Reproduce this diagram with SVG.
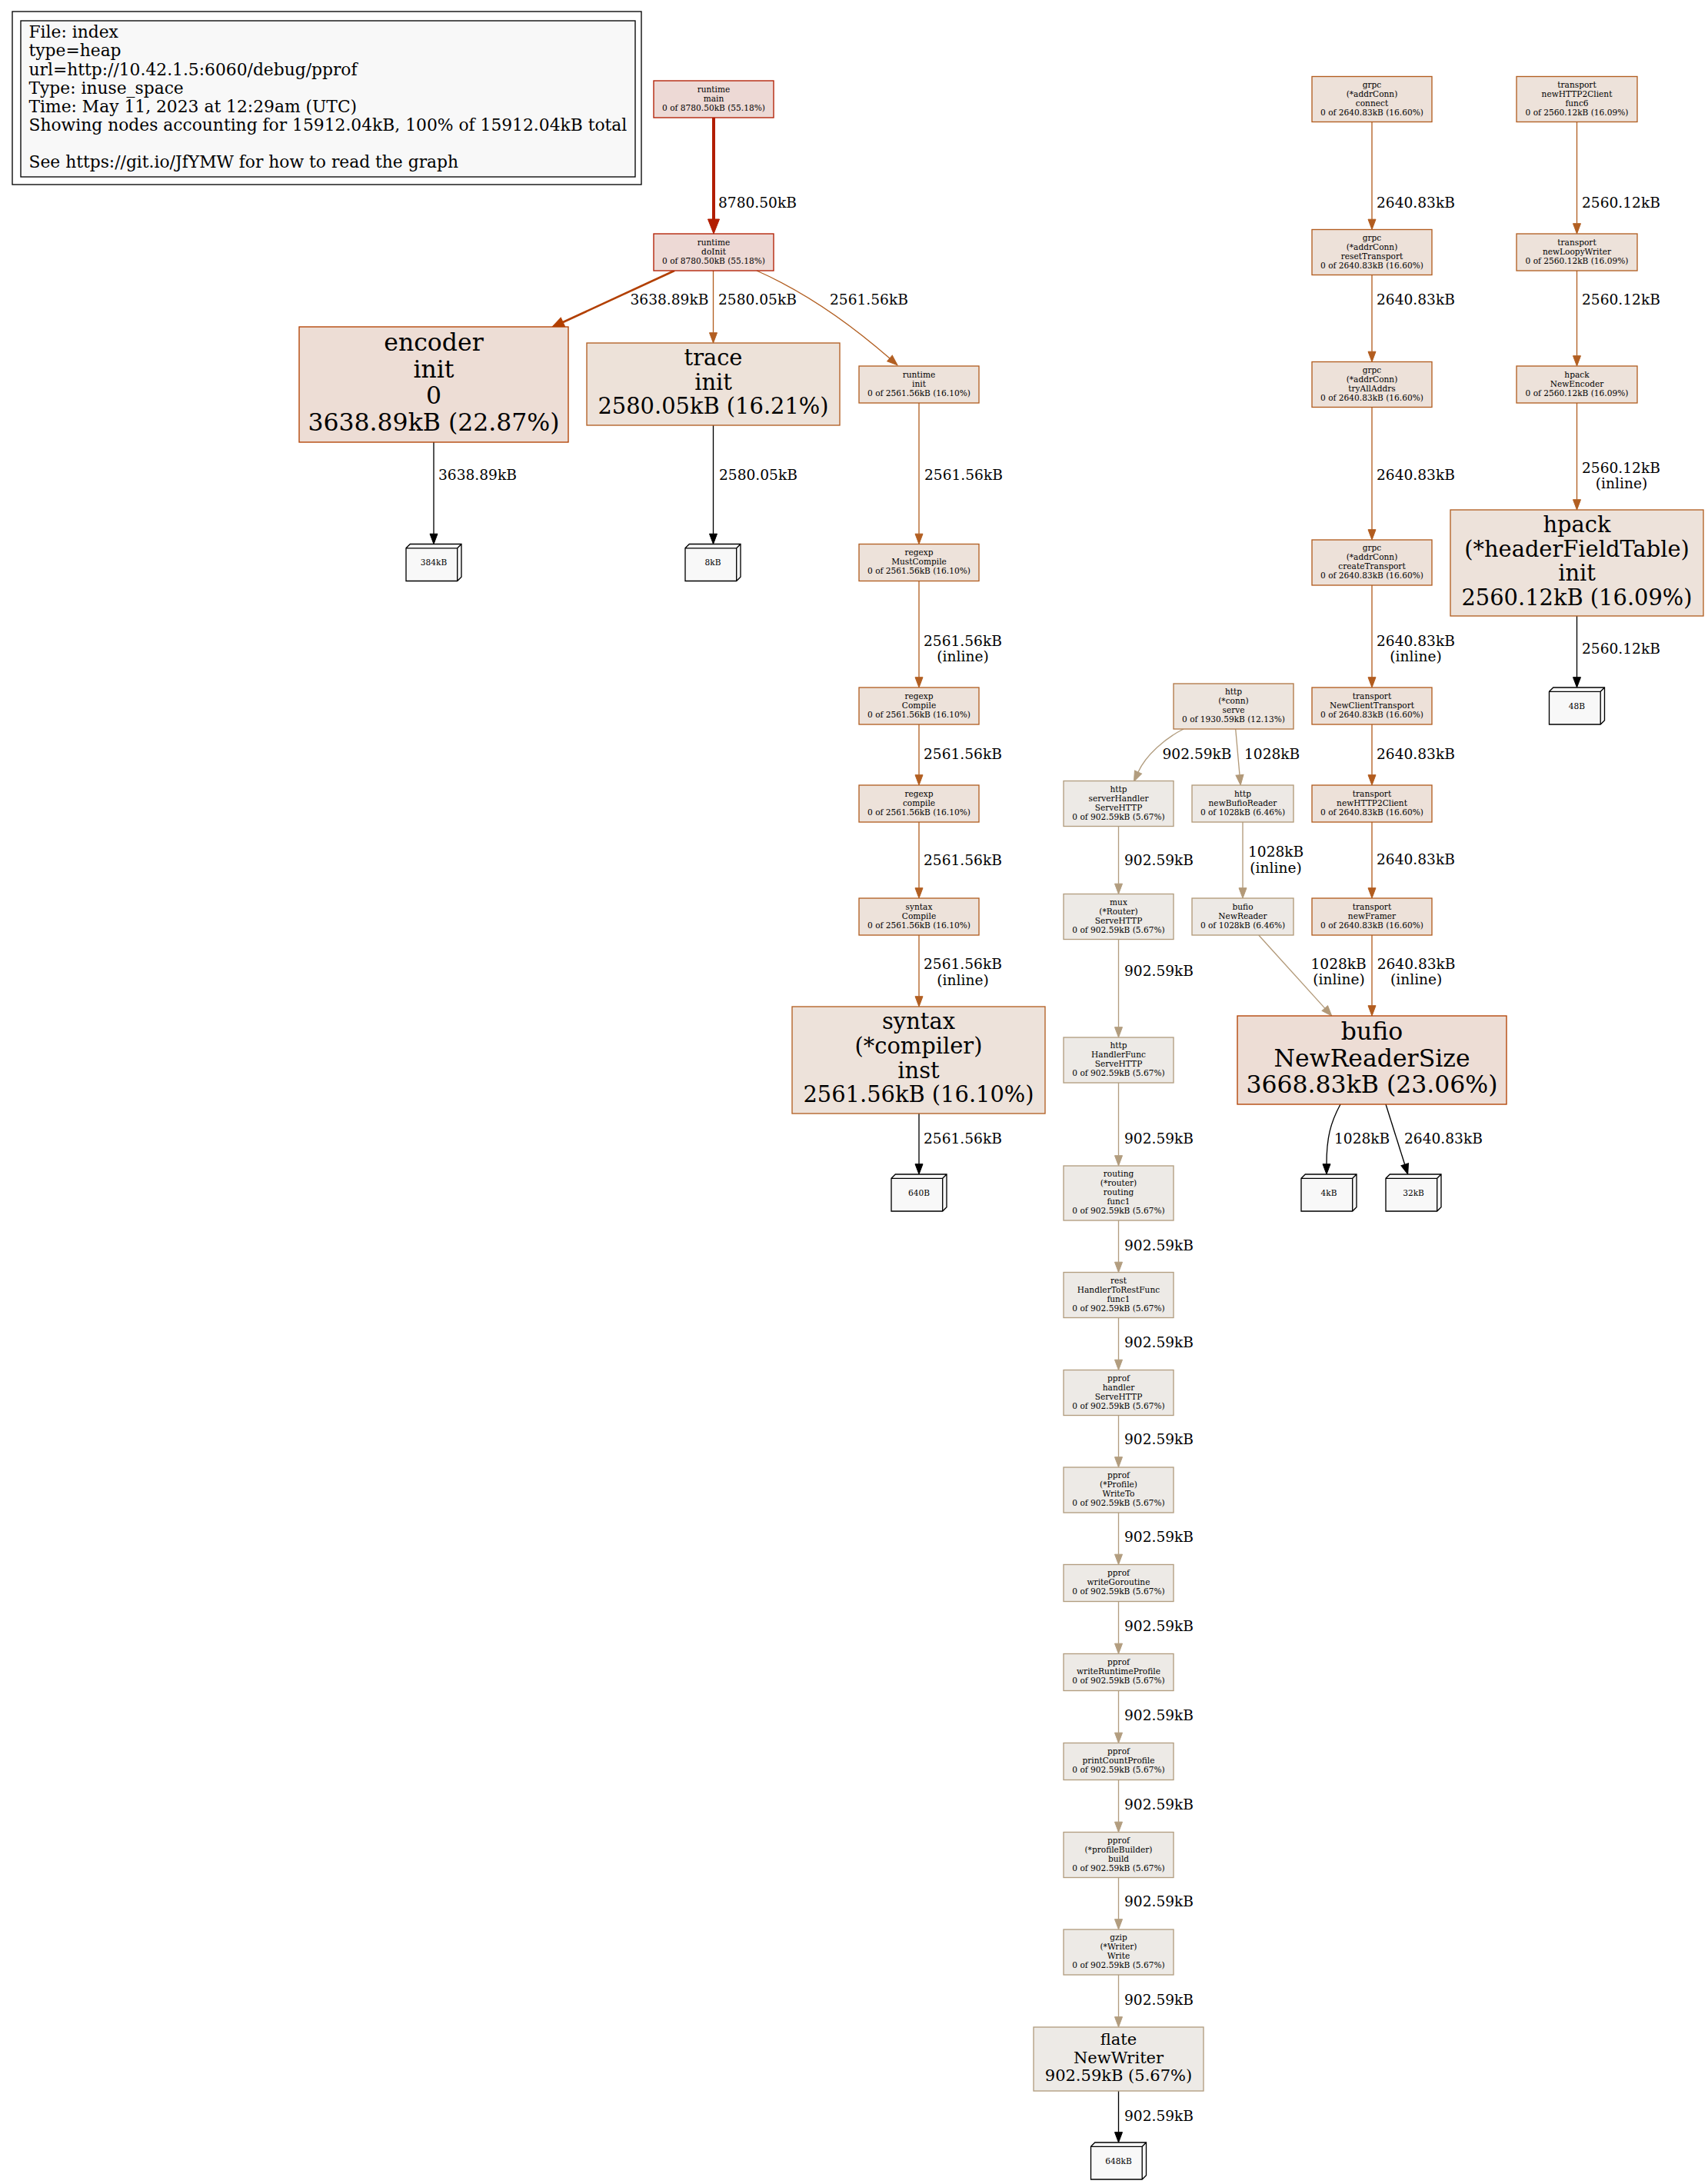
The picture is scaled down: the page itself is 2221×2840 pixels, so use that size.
<svg xmlns="http://www.w3.org/2000/svg" width="2221" height="2840" viewBox="0 0 2221 2840">
<style>
text{font-family:"DejaVu Serif","Liberation Serif",serif;fill:#000}
.s{font-size:10.6px;text-anchor:middle}
.lf{font-size:10.6px;text-anchor:middle}
.el{font-size:18.6px}
.elm{font-size:18.6px;text-anchor:middle}
.lg{font-size:21.8px}
.b32{font-size:31.5px;text-anchor:middle}
.b29{font-size:28.9px;text-anchor:middle}
.b21{font-size:21px;text-anchor:middle}
.nb{stroke-width:1.33}
.c55{fill:#edd9d5;stroke:#b21d00}
.c23{fill:#edddd5;stroke:#b23f00}
.c166{fill:#ede1d9;stroke:#b25c1e}
.c162{fill:#ede2d9;stroke:#b25e21}
.c161{fill:#ede2da;stroke:#b25f22}
.c121{fill:#ede5de;stroke:#b27846}
.c646{fill:#ede9e5;stroke:#b29978}
.c567{fill:#edeae6;stroke:#b29d7f}
.leaf{fill:#f8f8f8;stroke:#000;stroke-width:1.33}
.ed{fill:none}
.k55{stroke:#b21d00;stroke-width:4}
.k23{stroke:#b23f00;stroke-width:2.67}
.k166{stroke:#b25c1e;stroke-width:1.33}
.k162{stroke:#b25e21;stroke-width:1.33}
.k161{stroke:#b25f22;stroke-width:1.33}
.k646{stroke:#b29978;stroke-width:1.33}
.k567{stroke:#b29d7f;stroke-width:1.33}
.kb{stroke:#000;stroke-width:1.33}
</style>
<defs>
<marker id="m55" markerUnits="userSpaceOnUse" orient="auto" markerWidth="20" markerHeight="16" refX="0" refY="0" overflow="visible"><path d="M0,-7.5L19,0L0,7.5z" fill="#b21d00" stroke="#b21d00"/></marker>
<marker id="m23" markerUnits="userSpaceOnUse" orient="auto" markerWidth="20" markerHeight="16" refX="0" refY="0" overflow="visible"><path d="M0,-6.5L16,0L0,6.5z" fill="#b23f00" stroke="#b23f00"/></marker>
<marker id="m166" markerUnits="userSpaceOnUse" orient="auto" markerWidth="14" markerHeight="12" refX="0" refY="0" overflow="visible"><path d="M0,-5L13.3,0L0,5z" fill="#b25c1e" stroke="#b25c1e"/></marker>
<marker id="m162" markerUnits="userSpaceOnUse" orient="auto" markerWidth="14" markerHeight="12" refX="0" refY="0" overflow="visible"><path d="M0,-5L13.3,0L0,5z" fill="#b25e21" stroke="#b25e21"/></marker>
<marker id="m161" markerUnits="userSpaceOnUse" orient="auto" markerWidth="14" markerHeight="12" refX="0" refY="0" overflow="visible"><path d="M0,-5L13.3,0L0,5z" fill="#b25f22" stroke="#b25f22"/></marker>
<marker id="m646" markerUnits="userSpaceOnUse" orient="auto" markerWidth="14" markerHeight="12" refX="0" refY="0" overflow="visible"><path d="M0,-5L13.3,0L0,5z" fill="#b29978" stroke="#b29978"/></marker>
<marker id="m567" markerUnits="userSpaceOnUse" orient="auto" markerWidth="14" markerHeight="12" refX="0" refY="0" overflow="visible"><path d="M0,-5L13.3,0L0,5z" fill="#b29d7f" stroke="#b29d7f"/></marker>
<marker id="mb" markerUnits="userSpaceOnUse" orient="auto" markerWidth="14" markerHeight="12" refX="0" refY="0" overflow="visible"><path d="M0,-5L13.3,0L0,5z" fill="#000" stroke="#000"/></marker>
</defs>
<rect width="2221" height="2840" fill="#fff"/>

<g id="legend">
<rect x="16" y="15" width="818" height="225" fill="none" stroke="#000" stroke-width="1.33"/>
<rect x="27" y="27" width="799" height="203" fill="#f8f8f8" stroke="#000" stroke-width="1.33"/>
<text class="lg" x="37.5" y="49.3">File: index</text>
<text class="lg" x="37.5" y="73.4">type=heap</text>
<text class="lg" x="37.5" y="97.5">url=http://10.42.1.5:6060/debug/pprof</text>
<text class="lg" x="37.5" y="121.6">Type: inuse_space</text>
<text class="lg" x="37.5" y="145.7">Time: May 11, 2023 at 12:29am (UTC)</text>
<text class="lg" x="37.5" y="169.8">Showing nodes accounting for 15912.04kB, 100% of 15912.04kB total</text>
<text class="lg" x="37.5" y="218">See https://git.io/JfYMW for how to read the graph</text>
</g>

<g id="edges" class="ed">
<path class="ed k55" d="M928,153L928,285" marker-end="url(#m55)"/>
<path class="ed k23" d="M877,352L732,419" marker-end="url(#m23)"/>
<path class="ed k162" d="M927.5,352L927.5,432.7" marker-end="url(#m162)"/>
<path class="ed k161" d="M984,352C1050,381 1110,425 1157,466" marker-end="url(#m161)"/>
<path class="ed kb" d="M564,575L564,694.2" marker-end="url(#mb)"/>
<path class="ed kb" d="M927.5,553L927.5,694.2" marker-end="url(#mb)"/>
<path class="ed k161" d="M1195,524L1195,694.2" marker-end="url(#m161)"/>
<path class="ed k161" d="M1195,755.5L1195,880.7" marker-end="url(#m161)"/>
<path class="ed k161" d="M1195,942L1195,1007.7" marker-end="url(#m161)"/>
<path class="ed k161" d="M1195,1069L1195,1154.7" marker-end="url(#m161)"/>
<path class="ed k161" d="M1195,1216L1195,1295.7" marker-end="url(#m161)"/>
<path class="ed kb" d="M1195,1448L1195,1513.7" marker-end="url(#mb)"/>
<path class="ed k166" d="M1784,158.5L1784,285.2" marker-end="url(#m166)"/>
<path class="ed k166" d="M1784,357.5L1784,457.2" marker-end="url(#m166)"/>
<path class="ed k166" d="M1784,529.5L1784,688.7" marker-end="url(#m166)"/>
<path class="ed k166" d="M1784,761L1784,880.7" marker-end="url(#m166)"/>
<path class="ed k166" d="M1784,942L1784,1007.7" marker-end="url(#m166)"/>
<path class="ed k166" d="M1784,1069L1784,1154.7" marker-end="url(#m166)"/>
<path class="ed k166" d="M1784,1216L1784,1307.7" marker-end="url(#m166)"/>
<path class="ed k161" d="M2050.5,158.5L2050.5,290.7" marker-end="url(#m161)"/>
<path class="ed k161" d="M2050.5,352L2050.5,462.7" marker-end="url(#m161)"/>
<path class="ed k161" d="M2050.5,524L2050.5,649.7" marker-end="url(#m161)"/>
<path class="ed kb" d="M2050.5,801L2050.5,880.7" marker-end="url(#mb)"/>
<path class="ed k567" d="M1539,948C1515,960 1490,982 1480,1004" marker-end="url(#m567)"/>
<path class="ed k646" d="M1606.7,948L1612,1007.7" marker-end="url(#m646)"/>
<path class="ed k646" d="M1616,1069L1616,1154.7" marker-end="url(#m646)"/>
<path class="ed k646" d="M1636.7,1216L1722.8,1311.1" marker-end="url(#m646)"/>
<path class="ed kb" d="M1743,1436C1730,1460 1725,1480 1725,1513.7" marker-end="url(#mb)"/>
<path class="ed kb" d="M1802,1436L1826.7,1514.3" marker-end="url(#mb)"/>
<path class="ed k567" d="M1454.5,1074.5L1454.5,1149.2" marker-end="url(#m567)"/>
<path class="ed k567" d="M1454.5,1221.5L1454.5,1335.7" marker-end="url(#m567)"/>
<path class="ed k567" d="M1454.5,1408L1454.5,1502.7" marker-end="url(#m567)"/>
<path class="ed k567" d="M1454.5,1587L1454.5,1641.2" marker-end="url(#m567)"/>
<path class="ed k567" d="M1454.5,1713.5L1454.5,1768.2" marker-end="url(#m567)"/>
<path class="ed k567" d="M1454.5,1840.5L1454.5,1894.7" marker-end="url(#m567)"/>
<path class="ed k567" d="M1454.5,1967L1454.5,2021.2" marker-end="url(#m567)"/>
<path class="ed k567" d="M1454.5,2082.5L1454.5,2137.2" marker-end="url(#m567)"/>
<path class="ed k567" d="M1454.5,2198.5L1454.5,2253.2" marker-end="url(#m567)"/>
<path class="ed k567" d="M1454.5,2314.5L1454.5,2369.2" marker-end="url(#m567)"/>
<path class="ed k567" d="M1454.5,2441.5L1454.5,2495.7" marker-end="url(#m567)"/>
<path class="ed k567" d="M1454.5,2568L1454.5,2622.7" marker-end="url(#m567)"/>
<path class="ed kb" d="M1454.5,2719L1454.5,2772.7" marker-end="url(#mb)"/>
<text class="el" x="934" y="270">8780.50kB</text>
<text class="el" x="819.5" y="395.5">3638.89kB</text>
<text class="el" x="934" y="395.5">2580.05kB</text>
<text class="el" x="1079" y="395.5">2561.56kB</text>
<text class="el" x="570" y="624">3638.89kB</text>
<text class="el" x="935" y="624">2580.05kB</text>
<text class="el" x="1202" y="624">2561.56kB</text>
<text class="el" x="1201" y="839.5">2561.56kB</text>
<text class="elm" x="1252" y="860">(inline)</text>
<text class="el" x="1201" y="986.5">2561.56kB</text>
<text class="el" x="1201" y="1124.5">2561.56kB</text>
<text class="el" x="1201" y="1259.8">2561.56kB</text>
<text class="elm" x="1252" y="1280.5">(inline)</text>
<text class="el" x="1201" y="1486.5">2561.56kB</text>
<text class="el" x="1790" y="269.5">2640.83kB</text>
<text class="el" x="1790" y="395.5">2640.83kB</text>
<text class="el" x="1790" y="623.5">2640.83kB</text>
<text class="el" x="1790" y="839.5">2640.83kB</text>
<text class="elm" x="1841" y="860">(inline)</text>
<text class="el" x="1790" y="986.5">2640.83kB</text>
<text class="el" x="1790" y="1123.5">2640.83kB</text>
<text class="el" x="1790.7" y="1259.5">2640.83kB</text>
<text class="elm" x="1841.7" y="1280">(inline)</text>
<text class="el" x="2057" y="269.5">2560.12kB</text>
<text class="el" x="2057" y="395.5">2560.12kB</text>
<text class="el" x="2057" y="614.5">2560.12kB</text>
<text class="elm" x="2108.5" y="635">(inline)</text>
<text class="el" x="2057" y="849.5">2560.12kB</text>
<text class="el" x="1511.5" y="986.5">902.59kB</text>
<text class="el" x="1618" y="986.5">1028kB</text>
<text class="el" x="1623" y="1113.5">1028kB</text>
<text class="elm" x="1659" y="1134.5">(inline)</text>
<text class="el" x="1704.5" y="1259.5">1028kB</text>
<text class="elm" x="1741" y="1280">(inline)</text>
<text class="el" x="1735" y="1486.5">1028kB</text>
<text class="el" x="1826" y="1486.5">2640.83kB</text>
<text class="el" x="1462" y="1124.5">902.59kB</text>
<text class="el" x="1462" y="1269">902.59kB</text>
<text class="el" x="1462" y="1486.5">902.59kB</text>
<text class="el" x="1462" y="1625.5">902.59kB</text>
<text class="el" x="1462" y="1751.5">902.59kB</text>
<text class="el" x="1462" y="1878">902.59kB</text>
<text class="el" x="1462" y="2004.5">902.59kB</text>
<text class="el" x="1462" y="2120.5">902.59kB</text>
<text class="el" x="1462" y="2236.5">902.59kB</text>
<text class="el" x="1462" y="2352.5">902.59kB</text>
<text class="el" x="1462" y="2479">902.59kB</text>
<text class="el" x="1462" y="2606.5">902.59kB</text>
<text class="el" x="1462" y="2757.5">902.59kB</text>
</g>

<g id="runtime_main"><rect class="c55 nb" x="850" y="105" width="156" height="48"/><text class="s" x="928" y="119.5">runtime</text><text class="s" x="928" y="131.5">main</text><text class="s" x="928" y="143.5">0 of 8780.50kB (55.18%)</text></g>
<g id="runtime_doInit"><rect class="c55 nb" x="850" y="304" width="156" height="48"/><text class="s" x="928" y="318.5">runtime</text><text class="s" x="928" y="330.5">doInit</text><text class="s" x="928" y="342.5">0 of 8780.50kB (55.18%)</text></g>
<g id="encoder_init"><rect class="c23 nb" x="389" y="425" width="350" height="150"/><text class="b32" x="564" y="456.3">encoder</text><text class="b32" x="564" y="490.8">init</text><text class="b32" x="564" y="525.3">0</text><text class="b32" x="564" y="559.8">3638.89kB (22.87%)</text></g>
<g id="trace_init"><rect class="c162 nb" x="763" y="446" width="329" height="107"/><text class="b29" x="927.5" y="475.2">trace</text><text class="b29" x="927.5" y="506.8">init</text><text class="b29" x="927.5" y="538.4">2580.05kB (16.21%)</text></g>
<g id="runtime_init"><rect class="c161 nb" x="1117" y="476" width="156" height="48"/><text class="s" x="1195" y="490.5">runtime</text><text class="s" x="1195" y="502.5">init</text><text class="s" x="1195" y="514.5">0 of 2561.56kB (16.10%)</text></g>
<g id="regexp_MustCompile"><rect class="c161 nb" x="1117" y="707.5" width="156" height="48"/><text class="s" x="1195" y="722">regexp</text><text class="s" x="1195" y="734">MustCompile</text><text class="s" x="1195" y="746">0 of 2561.56kB (16.10%)</text></g>
<g id="regexp_Compile"><rect class="c161 nb" x="1117" y="894" width="156" height="48"/><text class="s" x="1195" y="908.5">regexp</text><text class="s" x="1195" y="920.5">Compile</text><text class="s" x="1195" y="932.5">0 of 2561.56kB (16.10%)</text></g>
<g id="regexp_compile"><rect class="c161 nb" x="1117" y="1021" width="156" height="48"/><text class="s" x="1195" y="1035.5">regexp</text><text class="s" x="1195" y="1047.5">compile</text><text class="s" x="1195" y="1059.5">0 of 2561.56kB (16.10%)</text></g>
<g id="syntax_Compile"><rect class="c161 nb" x="1117" y="1168" width="156" height="48"/><text class="s" x="1195" y="1182.5">syntax</text><text class="s" x="1195" y="1194.5">Compile</text><text class="s" x="1195" y="1206.5">0 of 2561.56kB (16.10%)</text></g>
<g id="syntax_inst"><rect class="c161 nb" x="1030" y="1309" width="329" height="139"/><text class="b29" x="1194.5" y="1338.4">syntax</text><text class="b29" x="1194.5" y="1370">(*compiler)</text><text class="b29" x="1194.5" y="1401.6">inst</text><text class="b29" x="1194.5" y="1433.2">2561.56kB (16.10%)</text></g>

<g id="grpc_connect"><rect class="c166 nb" x="1706" y="99.5" width="156" height="59"/><text class="s" x="1784" y="113.5">grpc</text><text class="s" x="1784" y="125.5">(*addrConn)</text><text class="s" x="1784" y="137.5">connect</text><text class="s" x="1784" y="149.5">0 of 2640.83kB (16.60%)</text></g>
<g id="grpc_resetTransport"><rect class="c166 nb" x="1706" y="298.5" width="156" height="59"/><text class="s" x="1784" y="312.5">grpc</text><text class="s" x="1784" y="324.5">(*addrConn)</text><text class="s" x="1784" y="336.5">resetTransport</text><text class="s" x="1784" y="348.5">0 of 2640.83kB (16.60%)</text></g>
<g id="grpc_tryAllAddrs"><rect class="c166 nb" x="1706" y="470.5" width="156" height="59"/><text class="s" x="1784" y="484.5">grpc</text><text class="s" x="1784" y="496.5">(*addrConn)</text><text class="s" x="1784" y="508.5">tryAllAddrs</text><text class="s" x="1784" y="520.5">0 of 2640.83kB (16.60%)</text></g>
<g id="grpc_createTransport"><rect class="c166 nb" x="1706" y="702" width="156" height="59"/><text class="s" x="1784" y="716">grpc</text><text class="s" x="1784" y="728">(*addrConn)</text><text class="s" x="1784" y="740">createTransport</text><text class="s" x="1784" y="752">0 of 2640.83kB (16.60%)</text></g>
<g id="transport_NewClientTransport"><rect class="c166 nb" x="1706" y="894" width="156" height="48"/><text class="s" x="1784" y="908.5">transport</text><text class="s" x="1784" y="920.5">NewClientTransport</text><text class="s" x="1784" y="932.5">0 of 2640.83kB (16.60%)</text></g>
<g id="transport_newHTTP2Client"><rect class="c166 nb" x="1706" y="1021" width="156" height="48"/><text class="s" x="1784" y="1035.5">transport</text><text class="s" x="1784" y="1047.5">newHTTP2Client</text><text class="s" x="1784" y="1059.5">0 of 2640.83kB (16.60%)</text></g>
<g id="transport_newFramer"><rect class="c166 nb" x="1706" y="1168" width="156" height="48"/><text class="s" x="1784" y="1182.5">transport</text><text class="s" x="1784" y="1194.5">newFramer</text><text class="s" x="1784" y="1206.5">0 of 2640.83kB (16.60%)</text></g>
<g id="bufio_NewReaderSize"><rect class="c23 nb" x="1609" y="1321" width="350" height="115"/><text class="b32" x="1784" y="1352">bufio</text><text class="b32" x="1784" y="1386.5">NewReaderSize</text><text class="b32" x="1784" y="1421">3668.83kB (23.06%)</text></g>

<g id="transport_func6"><rect class="c161 nb" x="1972" y="99.5" width="157" height="59"/><text class="s" x="2050.5" y="113.5">transport</text><text class="s" x="2050.5" y="125.5">newHTTP2Client</text><text class="s" x="2050.5" y="137.5">func6</text><text class="s" x="2050.5" y="149.5">0 of 2560.12kB (16.09%)</text></g>
<g id="transport_newLoopyWriter"><rect class="c161 nb" x="1972" y="304" width="157" height="48"/><text class="s" x="2050.5" y="318.5">transport</text><text class="s" x="2050.5" y="330.5">newLoopyWriter</text><text class="s" x="2050.5" y="342.5">0 of 2560.12kB (16.09%)</text></g>
<g id="hpack_NewEncoder"><rect class="c161 nb" x="1972" y="476" width="157" height="48"/><text class="s" x="2050.5" y="490.5">hpack</text><text class="s" x="2050.5" y="502.5">NewEncoder</text><text class="s" x="2050.5" y="514.5">0 of 2560.12kB (16.09%)</text></g>
<g id="hpack_init"><rect class="c161 nb" x="1886" y="663" width="329" height="138"/><text class="b29" x="2050.5" y="692">hpack</text><text class="b29" x="2050.5" y="723.6">(*headerFieldTable)</text><text class="b29" x="2050.5" y="755.2">init</text><text class="b29" x="2050.5" y="786.8">2560.12kB (16.09%)</text></g>

<g id="http_conn_serve"><rect class="c121 nb" x="1526" y="889" width="156" height="59"/><text class="s" x="1604" y="903">http</text><text class="s" x="1604" y="915">(*conn)</text><text class="s" x="1604" y="927">serve</text><text class="s" x="1604" y="939">0 of 1930.59kB (12.13%)</text></g>
<g id="http_newBufioReader"><rect class="c646 nb" x="1550" y="1021" width="132" height="48"/><text class="s" x="1616" y="1035.5">http</text><text class="s" x="1616" y="1047.5">newBufioReader</text><text class="s" x="1616" y="1059.5">0 of 1028kB (6.46%)</text></g>
<g id="bufio_NewReader"><rect class="c646 nb" x="1550" y="1168" width="132" height="48"/><text class="s" x="1616" y="1182.5">bufio</text><text class="s" x="1616" y="1194.5">NewReader</text><text class="s" x="1616" y="1206.5">0 of 1028kB (6.46%)</text></g>

<g id="http_serverHandler"><rect class="c567 nb" x="1383" y="1015.5" width="143" height="59"/><text class="s" x="1454.5" y="1029.5">http</text><text class="s" x="1454.5" y="1041.5">serverHandler</text><text class="s" x="1454.5" y="1053.5">ServeHTTP</text><text class="s" x="1454.5" y="1065.5">0 of 902.59kB (5.67%)</text></g>
<g id="mux_Router"><rect class="c567 nb" x="1383" y="1162.5" width="143" height="59"/><text class="s" x="1454.5" y="1176.5">mux</text><text class="s" x="1454.5" y="1188.5">(*Router)</text><text class="s" x="1454.5" y="1200.5">ServeHTTP</text><text class="s" x="1454.5" y="1212.5">0 of 902.59kB (5.67%)</text></g>
<g id="http_HandlerFunc"><rect class="c567 nb" x="1383" y="1349" width="143" height="59"/><text class="s" x="1454.5" y="1363">http</text><text class="s" x="1454.5" y="1375">HandlerFunc</text><text class="s" x="1454.5" y="1387">ServeHTTP</text><text class="s" x="1454.5" y="1399">0 of 902.59kB (5.67%)</text></g>
<g id="routing_func1"><rect class="c567 nb" x="1383" y="1516" width="143" height="71"/><text class="s" x="1454.5" y="1530">routing</text><text class="s" x="1454.5" y="1542">(*router)</text><text class="s" x="1454.5" y="1554">routing</text><text class="s" x="1454.5" y="1566">func1</text><text class="s" x="1454.5" y="1578">0 of 902.59kB (5.67%)</text></g>
<g id="rest_func1"><rect class="c567 nb" x="1383" y="1654.5" width="143" height="59"/><text class="s" x="1454.5" y="1668.5">rest</text><text class="s" x="1454.5" y="1680.5">HandlerToRestFunc</text><text class="s" x="1454.5" y="1692.5">func1</text><text class="s" x="1454.5" y="1704.5">0 of 902.59kB (5.67%)</text></g>
<g id="pprof_handler"><rect class="c567 nb" x="1383" y="1781.5" width="143" height="59"/><text class="s" x="1454.5" y="1795.5">pprof</text><text class="s" x="1454.5" y="1807.5">handler</text><text class="s" x="1454.5" y="1819.5">ServeHTTP</text><text class="s" x="1454.5" y="1831.5">0 of 902.59kB (5.67%)</text></g>
<g id="pprof_WriteTo"><rect class="c567 nb" x="1383" y="1908" width="143" height="59"/><text class="s" x="1454.5" y="1922">pprof</text><text class="s" x="1454.5" y="1934">(*Profile)</text><text class="s" x="1454.5" y="1946">WriteTo</text><text class="s" x="1454.5" y="1958">0 of 902.59kB (5.67%)</text></g>
<g id="pprof_writeGoroutine"><rect class="c567 nb" x="1383" y="2034.5" width="143" height="48"/><text class="s" x="1454.5" y="2049">pprof</text><text class="s" x="1454.5" y="2061">writeGoroutine</text><text class="s" x="1454.5" y="2073">0 of 902.59kB (5.67%)</text></g>
<g id="pprof_writeRuntimeProfile"><rect class="c567 nb" x="1383" y="2150.5" width="143" height="48"/><text class="s" x="1454.5" y="2165">pprof</text><text class="s" x="1454.5" y="2177">writeRuntimeProfile</text><text class="s" x="1454.5" y="2189">0 of 902.59kB (5.67%)</text></g>
<g id="pprof_printCountProfile"><rect class="c567 nb" x="1383" y="2266.5" width="143" height="48"/><text class="s" x="1454.5" y="2281">pprof</text><text class="s" x="1454.5" y="2293">printCountProfile</text><text class="s" x="1454.5" y="2305">0 of 902.59kB (5.67%)</text></g>
<g id="pprof_build"><rect class="c567 nb" x="1383" y="2382.5" width="143" height="59"/><text class="s" x="1454.5" y="2396.5">pprof</text><text class="s" x="1454.5" y="2408.5">(*profileBuilder)</text><text class="s" x="1454.5" y="2420.5">build</text><text class="s" x="1454.5" y="2432.5">0 of 902.59kB (5.67%)</text></g>
<g id="gzip_Write"><rect class="c567 nb" x="1383" y="2509" width="143" height="59"/><text class="s" x="1454.5" y="2523">gzip</text><text class="s" x="1454.5" y="2535">(*Writer)</text><text class="s" x="1454.5" y="2547">Write</text><text class="s" x="1454.5" y="2559">0 of 902.59kB (5.67%)</text></g>
<g id="flate_NewWriter"><rect class="c567 nb" x="1344" y="2636" width="221" height="83"/><text class="b21" x="1454.5" y="2659.3">flate</text><text class="b21" x="1454.5" y="2682.8">NewWriter</text><text class="b21" x="1454.5" y="2706.3">902.59kB (5.67%)</text></g>

<g id="leaf_384kB"><path class="leaf" d="M528,712.8L533.3,707.5L600,707.5L600,750.2L594.7,755.5L528,755.5Z M528,712.8L594.7,712.8L600,707.5 M594.7,712.8L594.7,755.5"/><text class="lf" x="564" y="735">384kB</text></g>
<g id="leaf_8kB"><path class="leaf" d="M891,712.8L896.3,707.5L963,707.5L963,750.2L957.7,755.5L891,755.5Z M891,712.8L957.7,712.8L963,707.5 M957.7,712.8L957.7,755.5"/><text class="lf" x="927" y="735">8kB</text></g>
<g id="leaf_640B"><path class="leaf" d="M1159,1532.3L1164.3,1527L1231,1527L1231,1569.7L1225.7,1575L1159,1575Z M1159,1532.3L1225.7,1532.3L1231,1527 M1225.7,1532.3L1225.7,1575"/><text class="lf" x="1195" y="1554.5">640B</text></g>
<g id="leaf_48B"><path class="leaf" d="M2014.5,899.3L2019.8,894L2086.5,894L2086.5,936.7L2081.2,942L2014.5,942Z M2014.5,899.3L2081.2,899.3L2086.5,894 M2081.2,899.3L2081.2,942"/><text class="lf" x="2050.5" y="921.5">48B</text></g>
<g id="leaf_4kB"><path class="leaf" d="M1692,1532.3L1697.3,1527L1764,1527L1764,1569.7L1758.7,1575L1692,1575Z M1692,1532.3L1758.7,1532.3L1764,1527 M1758.7,1532.3L1758.7,1575"/><text class="lf" x="1728" y="1554.5">4kB</text></g>
<g id="leaf_32kB"><path class="leaf" d="M1802,1532.3L1807.3,1527L1874,1527L1874,1569.7L1868.7,1575L1802,1575Z M1802,1532.3L1868.7,1532.3L1874,1527 M1868.7,1532.3L1868.7,1575"/><text class="lf" x="1838" y="1554.5">32kB</text></g>
<g id="leaf_648kB"><path class="leaf" d="M1418.5,2791.3L1423.8,2786L1490.5,2786L1490.5,2828.7L1485.2,2834L1418.5,2834Z M1418.5,2791.3L1485.2,2791.3L1490.5,2786 M1485.2,2791.3L1485.2,2834"/><text class="lf" x="1454.5" y="2813.5">648kB</text></g>
</svg>
